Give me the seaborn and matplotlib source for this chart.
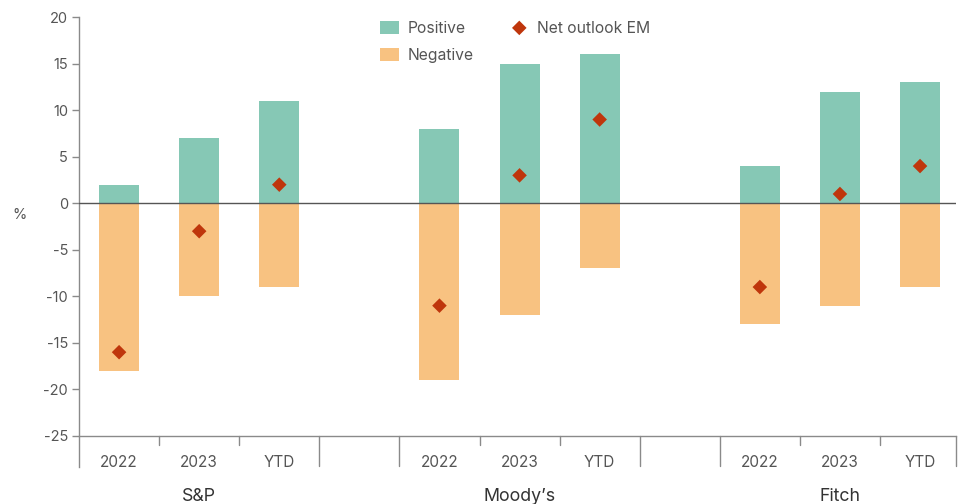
import matplotlib
matplotlib.use("Agg")
import matplotlib.pyplot as plt
import matplotlib.transforms as mtransforms
import seaborn as sns
import pandas as pd
import numpy as np

agencies = ["S&P", "Moody\u2019s", "Fitch"]
periods = ["2022", "2023", "YTD"]
positive = [2, 7, 11, 8, 15, 16, 4, 12, 13]
negative = [-18, -10, -9, -19, -12, -7, -13, -11, -9]
net_outlook = [-16, -3, 2, -11, 3, 9, -9, 1, 4]
yticks = [-25, -20, -15, -10, -5, 0, 5, 10, 15, 20]

POS_C = "#86C8B5"
NEG_C = "#F8C281"
NET_C = "#BF360C"
TXT_C = "#555555"
AX_C = "#8a8a8a"

sns.set_theme(style="white")
plt.rcParams["font.family"] = ["Inter", "DejaVu Sans"]
plt.rcParams["axes.unicode_minus"] = False

# slot positions: 3 bars per agency, one empty slot between agencies
xpos = []
for g in range(len(agencies)):
    for p in range(len(periods)):
        xpos.append(g * 4 + p)

df = pd.DataFrame({
    "x": xpos,
    "agency": [a for a in agencies for _ in periods],
    "period": periods * len(agencies),
    "Positive": positive,
    "Negative": negative,
    "Net": net_outlook,
})

fig = plt.figure(figsize=(9.58, 5.04), dpi=100)
ax = fig.add_axes([0.0825, 0.135, 0.9155, 0.831])

sns.barplot(data=df, x="x", y="Positive", native_scale=True, width=0.5,
            color=POS_C, saturation=1, ax=ax, label="Positive", linewidth=0)
sns.barplot(data=df, x="x", y="Negative", native_scale=True, width=0.5,
            color=NEG_C, saturation=1, ax=ax, label="Negative", linewidth=0)
sns.scatterplot(data=df, x="x", y="Net", marker="D", s=55, color=NET_C,
                edgecolor="none", ax=ax, label="Net outlook EM", zorder=5)

XL, XR = -0.5, 10.45
ax.set_xlim(XL, XR)
ax.set_ylim(-25, 20)
ax.set_yticks(yticks)
ax.set_yticklabels([str(v) for v in yticks])
ax.axhline(0, color="#555555", lw=1, zorder=3)

for s in ["top", "right"]:
    ax.spines[s].set_visible(False)
ax.spines["left"].set_color(AX_C)
ax.spines["bottom"].set_color(AX_C)
ax.spines["left"].set_linewidth(1)
ax.spines["bottom"].set_linewidth(1)
ax.spines["left"].set_bounds(-25 - 3.3, 20)

ax.tick_params(axis="y", length=5, width=1, color=AX_C, labelcolor=TXT_C,
               labelsize=10.5, pad=3, left=True)
ax.set_xticks(xpos)
ax.set_xticklabels(df["period"].tolist())
ax.tick_params(axis="x", length=0, labelcolor=TXT_C, labelsize=11, pad=14)
ax.set_xlabel("")
ax.set_ylabel("%", rotation=0, color=TXT_C, fontsize=10.5, labelpad=0)
ax.yaxis.set_label_coords(-0.068, 0.512)

# separators under the axis
trans = mtransforms.blended_transform_factory(ax.transData, ax.transAxes)
long_seps = [g * 4 + 2.5 for g in range(len(agencies) - 1)] + \
            [g * 4 - 0.5 for g in range(1, len(agencies))] + [XR]
short_seps = [g * 4 + o for g in range(len(agencies)) for o in (0.5, 1.5)]
for xb in long_seps:
    ax.plot([xb, xb], [0, -0.072], transform=trans, color=AX_C, lw=1,
            clip_on=False)
for xb in short_seps:
    ax.plot([xb, xb], [0, -0.022], transform=trans, color=AX_C, lw=1,
            clip_on=False)

for g, name in enumerate(agencies):
    ax.text(g * 4 + 1, -0.145, name, transform=trans, ha="center", va="center",
            color="#333333", fontsize=12.8)

handles, labels = ax.get_legend_handles_labels()
order = [labels.index("Positive"), labels.index("Negative"),
         labels.index("Net outlook EM")]
leg = ax.legend([handles[i] for i in order], [labels[i] for i in order],
                ncol=2, loc="upper center", bbox_to_anchor=(0.497, 1.025),
                frameon=False, fontsize=11.3, handlelength=1.25,
                handleheight=0.9, columnspacing=2.3, labelspacing=0.75,
                handletextpad=0.5)
for t in leg.get_texts():
    t.set_color(TXT_C)

fig.savefig("out.png", dpi=100)
